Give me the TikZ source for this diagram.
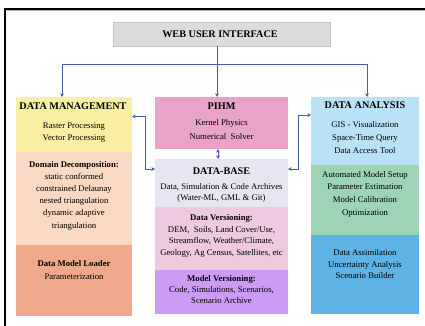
\documentclass[tikz,border=0pt]{standalone}
\usepackage{fontspec}
\setmainfont{Liberation Serif}
\usetikzlibrary{arrows.meta}

\definecolor{cWeb}{HTML}{DCDCDC}
\definecolor{cWebB}{HTML}{C2C2C2}
\definecolor{cDMa}{HTML}{F9EFA2}
\definecolor{cDMb}{HTML}{F9D8C4}
\definecolor{cDMc}{HTML}{EFAA8B}
\definecolor{cPIHM}{HTML}{E8A3CA}
\definecolor{cDBa}{HTML}{E7E5F1}
\definecolor{cDBb}{HTML}{EDCAE2}
\definecolor{cDBc}{HTML}{CB9CF3}
\definecolor{cDAa}{HTML}{BAE2F6}
\definecolor{cDAb}{HTML}{9CD4B5}
\definecolor{cDAc}{HTML}{5EB3E4}
\definecolor{cLink}{HTML}{4A5FAA}

\begin{document}
\begin{tikzpicture}[x=1pt,y=-1pt,
  sect/.style={inner sep=0pt, outer sep=0pt, draw=none},
  title/.style={inner sep=0pt, font=\fontsize{10.2}{12}\selectfont\bfseries},
  txt/.style={align=center, inner sep=0pt, font=\fontsize{8.7}{#1}\selectfont},
  txt/.default=12.5,
  conn/.style={draw=cLink, line width=0.9pt},
  tip/.style={-{Stealth[length=3.6pt,width=3.6pt]}},
  tips/.style={{Stealth[length=3.6pt,width=3.6pt]}-{Stealth[length=3.6pt,width=3.6pt]}}]
\useasboundingbox (0,0) rectangle (425,326);

% page frame
\draw[gray!60, line width=0.8pt] (425,10.8) -- (6.5,10.8);
\draw[black, line width=1.6pt] (425,9) -- (5,9) -- (5,326);

% web user interface
\node[sect, fill=cWeb, draw=cWebB, line width=0.6pt,
      minimum width=217pt, minimum height=24pt] (webui) at (221.5,34) {};
\node[title] (webuiT) at (220,34) {WEB USER INTERFACE};

% data management column
\node[sect, fill=cDMa, minimum width=116pt, minimum height=55pt] (dm1) at (74,124.5) {};
\node[sect, fill=cDMb, minimum width=116pt, minimum height=93pt] (dm2) at (74,198.5) {};
\node[sect, fill=cDMc, minimum width=116pt, minimum height=71pt] (dm3) at (74,280.5) {};
\node[title] (dmT) at (73,106) {DATA MANAGEMENT};
\node[txt=12.4] (dmA) at (74,132.5) {Raster Processing\\Vector Processing};
\node[txt=12.2] (dmB) at (74,195.5) {\textbf{Domain Decomposition:}\\static conformed\\constrained Delaunay\\nested triangulation\\dynamic adaptive\\triangulation};
\node[txt=13] (dmC) at (74,270) {\textbf{Data Model Loader}\\Parameterization};

% PIHM
\node[sect, fill=cPIHM, minimum width=133pt, minimum height=52pt] (pihm) at (221.5,123) {};
\node[title] (pihmT) at (221.5,106) {PIHM};
\node[txt=14] (pihmA) at (221.5,129.8) {Kernel Physics\\Numerical\ \ Solver};

% data-base column
\node[sect, fill=cDBa, minimum width=133pt, minimum height=48pt] (db1) at (221.5,183) {};
\node[sect, fill=cDBb, minimum width=133pt, minimum height=62.5pt] (db2) at (221.5,238.25) {};
\node[sect, fill=cDBc, minimum width=133pt, minimum height=44.5pt] (db3) at (221.5,291.75) {};
\node[title] (dbT) at (221.5,171) {DATA-BASE};
\node[txt=11] (dbA) at (221.5,192.8) {Data, Simulation \& Code Archives\\(Water-ML, GML \& Git)};
\node[txt=11.7] (dbB) at (221.5,235.8) {\textbf{Data Versioning:}\\DEM,\ \ Soils, Land Cover/Use,\\Streamflow, Weather/Climate,\\Geology, Ag Census, Satellites, etc};
\node[txt=11] (dbC) at (221.5,290) {\textbf{Model Versioning:}\\Code, Simulations, Scenarios,\\Scenario Archive};

% data analysis column
\node[sect, fill=cDAa, minimum width=108pt, minimum height=68pt] (da1) at (365,131) {};
\node[sect, fill=cDAb, minimum width=108pt, minimum height=70pt] (da2) at (365,200) {};
\node[sect, fill=cDAc, minimum width=108pt, minimum height=79pt] (da3) at (365,274.5) {};
\node[title] (daT) at (365,105) {DATA ANALYSIS};
\node[txt=13.3] (daA) at (365,137.7) {GIS - Visualization\\Space-Time Query\\Data Access Tool};
\node[txt=12.8] (daB) at (365,194.2) {Automated Model Setup\\Parameter Estimation\\Model Calibration\\Optimization};
\node[txt=11.5] (daC) at (365,264.2) {Data Assimilation\\Uncertainty Analysis\\Scenario Builder};

% distribution bus from the web interface
\coordinate (busL) at (62,64);
\coordinate (busM) at (217,64);
\coordinate (busR) at (367,64);
\draw[conn] (webui.south -| busM) -- (busM);
\draw[conn] (busL) -- (busR);
\draw[conn,tip] (busL) -- (busL |- dm1.north);
\draw[conn,tip] (busM) -- (busM |- pihm.north);
\draw[conn,tip] (busR) -- (busR |- da1.north);

% links to and from the data-base
\draw[conn,tips] ([xshift=-3.5pt]pihm.south) -- ([xshift=-3.5pt]db1.north);
\draw[conn,tips] ([yshift=8pt]dm1.east) -| ([xshift=-10pt,yshift=14pt]db1.west) -- ([yshift=14pt]db1.west);
\draw[conn,tips] ([yshift=14pt]db1.east) -| ([xshift=-13pt,yshift=16pt]da1.west) -- ([yshift=16pt]da1.west);
\end{tikzpicture}
\end{document}
